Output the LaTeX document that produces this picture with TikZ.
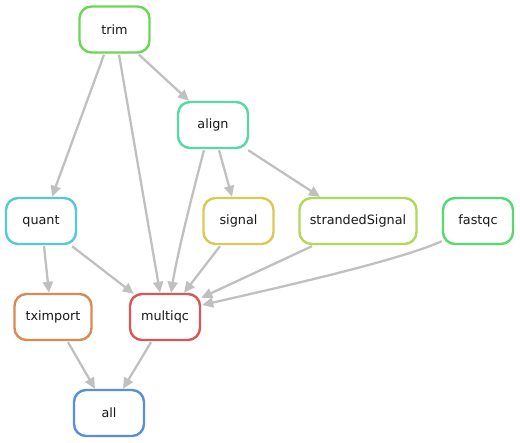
\documentclass[tikz,border=0pt]{standalone}
\usepackage{fontspec}
\setmainfont{DejaVu Sans}
\usetikzlibrary{arrows.meta}
\definecolor{ctrim}{HTML}{6CD757}
\definecolor{calign}{HTML}{57D9A3}
\definecolor{cquant}{HTML}{57C8D9}
\definecolor{csignal}{HTML}{D9C957}
\definecolor{cstranded}{HTML}{B1D957}
\definecolor{cfastqc}{HTML}{57D970}
\definecolor{ctx}{HTML}{D98B57}
\definecolor{cmulti}{HTML}{D95757}
\definecolor{call}{HTML}{5790D9}
\definecolor{edgegray}{HTML}{C0C0C0}
\tikzset{
  rule/.style={draw=#1, line width=2.4pt, rounded corners=12pt, fill=white,
    minimum width=70pt, minimum height=46pt, inner sep=0pt,
    font=\fontsize{12.8}{14}\selectfont, text=black!90},
  edge/.style={draw=edgegray, line width=2.3pt, -{Triangle[length=11pt,width=10pt]}, shorten >=0pt},
}
\begin{document}
\begin{tikzpicture}[x=1pt,y=-1pt]
\useasboundingbox (0,0) rectangle (520,443);
\node[rule=ctrim] (trim) at (114.5,29.5) {trim};
\node[rule=calign] (align) at (213,125) {align};
\node[rule=cquant] (quant) at (41,221) {quant};
\node[rule=csignal] (signal) at (238.5,221) {signal};
\node[rule=cstranded, minimum width=117pt] (stranded) at (358,221) {strandedSignal};
\node[rule=cfastqc] (fastqc) at (478,221) {fastqc};
\node[rule=ctx, minimum width=77pt] (tximport) at (53,317) {tximport};
\node[rule=cmulti] (multiqc) at (165,317) {multiqc};
\node[rule=call] (all) at (109,413) {all};

\draw[edge] ([xshift=-10.5pt,yshift=-1pt]trim.south) -- ([xshift=11pt]quant.north);
\draw[edge] ([xshift=4.5pt,yshift=-1pt]trim.south) -- ([xshift=-5pt]multiqc.north);
\draw[edge] ([xshift=24.5pt,yshift=-1pt]trim.south) -- ([xshift=-24pt]align.north);
\draw[edge] ([xshift=-9pt,yshift=-1pt]align.south) .. controls (196,180) and (178,250) .. ([xshift=6pt]multiqc.north);
\draw[edge] ([xshift=6pt,yshift=-1pt]align.south) -- ([xshift=-6.5pt]signal.north);
\draw[edge] ([xshift=-1pt,yshift=-1pt]align.south east) -- ([xshift=-38pt]stranded.north);
\draw[edge] ([xshift=3pt,yshift=-1pt]quant.south) -- ([xshift=-4pt]tximport.north);
\draw[edge] ([xshift=31pt,yshift=-1pt]quant.south) -- ([xshift=5pt,yshift=-1pt]multiqc.north west);
\draw[edge] ([xshift=-18.5pt,yshift=-1pt]signal.south) -- ([xshift=19pt]multiqc.north);
\draw[edge] ([xshift=-46pt,yshift=-1pt]stranded.south) -- ([yshift=-5pt]multiqc.north east);
\draw[edge] ([yshift=4pt]fastqc.south west) .. controls (400,260) and (290,285) .. ([xshift=1pt,yshift=12pt]multiqc.east);
\draw[edge] ([xshift=15pt,yshift=-1pt]tximport.south) -- ([xshift=-14pt]all.north);
\draw[edge] ([xshift=-14pt,yshift=-1pt]multiqc.south) -- ([xshift=14pt]all.north);
\end{tikzpicture}
\end{document}
